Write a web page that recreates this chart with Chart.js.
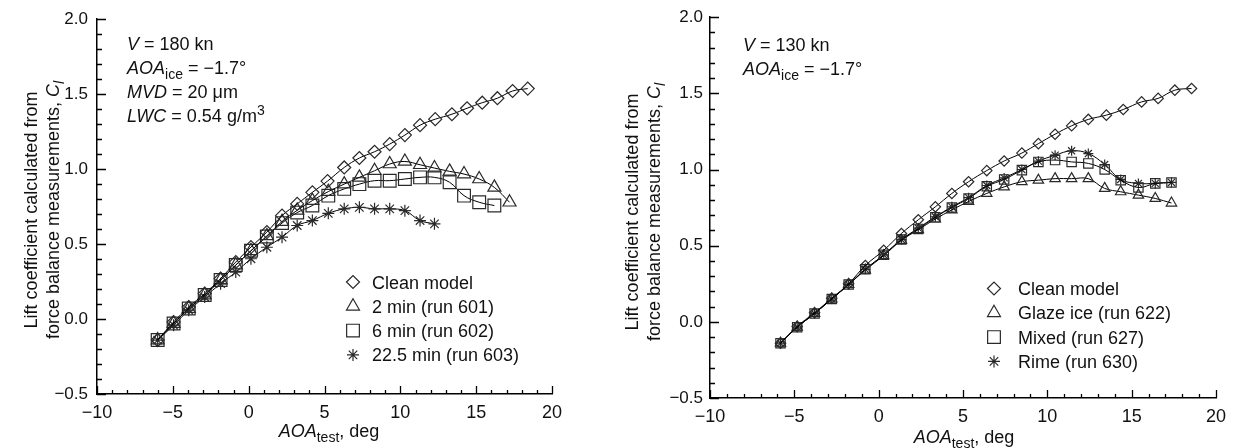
<!DOCTYPE html>
<html>
<head>
<meta charset="utf-8">
<script src="https://cdn.jsdelivr.net/npm/chart.js@4.4.0/dist/chart.umd.min.js"></script>
<style>
  html, body { margin: 0; padding: 0; background: #fff; }
  #wrap { position: relative; width: 1236px; height: 448px; overflow: hidden; }
  canvas { position: absolute; top: 0; }
</style>
</head>
<body>
<div id="wrap">
  <canvas id="leftChart" width="600" height="448" style="left:0;width:600px;height:448px"></canvas>
  <canvas id="rightChart" width="616" height="448" style="left:620px;width:616px;height:448px"></canvas>
</div>
<script>
// ===== Left panel: V = 180 kn, ice accretion time =====
const aoaLeft = [-6, -4.95, -3.95, -2.9, -1.85, -0.85, 0.15, 1.2, 2.2, 3.2, 4.2, 5.2, 6.3, 7.3, 8.3, 9.3, 10.3, 11.3, 12.3, 13.4, 14.4, 15.4, 16.4, 17.4, 18.4];
const aoaLeftIced = [-6, -4.95, -3.95, -2.9, -1.85, -0.85, 0.15, 1.2, 2.2, 3.2, 4.2, 5.25, 6.3, 7.3, 8.3, 9.3, 10.3, 11.3, 12.25, 13.25, 14.2, 15.2, 16.2, 17.2];
const clLeftClean = [-0.14, -0.02, 0.08, 0.17, 0.27, 0.38, 0.48, 0.58, 0.69, 0.768, 0.845, 0.92, 1.011, 1.074, 1.116, 1.167, 1.227, 1.293, 1.333, 1.366, 1.406, 1.443, 1.473, 1.521, 1.537];
const clLeft2min = [-0.14, -0.03, 0.07, 0.16, 0.26, 0.36, 0.455, 0.555, 0.65, 0.725, 0.79, 0.85, 0.9, 0.945, 0.989, 1.034, 1.051, 1.029, 1.007, 0.985, 0.967, 0.934, 0.878, 0.779];
const clLeft6min = [-0.14, -0.03, 0.07, 0.16, 0.26, 0.36, 0.455, 0.55, 0.64, 0.71, 0.757, 0.823, 0.868, 0.9, 0.923, 0.923, 0.934, 0.945, 0.945, 0.912, 0.823, 0.779, 0.757];
const clLeft22min = [-0.141, -0.041, 0.059, 0.147, 0.236, 0.313, 0.402, 0.479, 0.546, 0.624, 0.657, 0.705, 0.735, 0.745, 0.735, 0.735, 0.723, 0.657, 0.635];
const leftLabels = ["Clean model", "2 min (run 601)", "6 min (run 602)", "22.5 min (run 603)"];

// ===== Right panel: V = 130 kn, ice type =====
const aoaRight = [-5.82, -4.83, -3.8, -2.78, -1.78, -0.79, 0.3, 1.35, 2.35, 3.36, 4.34, 5.33, 6.41, 7.44, 8.49, 9.47, 10.46, 11.44, 12.43, 13.5, 14.5, 15.59, 16.57, 17.56, 18.55];
const aoaRightIced = [-5.82, -4.83, -3.8, -2.78, -1.78, -0.79, 0.3, 1.35, 2.35, 3.36, 4.34, 5.33, 6.41, 7.44, 8.49, 9.47, 10.46, 11.44, 12.43, 13.4, 14.35, 15.4, 16.4, 17.36];
const clRightClean = [-0.14, -0.03, 0.06, 0.155, 0.25, 0.37, 0.47, 0.58, 0.67, 0.755, 0.843, 0.92, 0.993, 1.056, 1.108, 1.17, 1.232, 1.287, 1.329, 1.357, 1.394, 1.444, 1.467, 1.521, 1.532];
const clRightGlaze = [-0.14, -0.035, 0.055, 0.15, 0.245, 0.34, 0.435, 0.535, 0.605, 0.675, 0.735, 0.79, 0.843, 0.886, 0.92, 0.93, 0.94, 0.94, 0.94, 0.876, 0.854, 0.832, 0.81, 0.78];
const clRightMixed = [-0.14, -0.035, 0.055, 0.15, 0.245, 0.345, 0.44, 0.54, 0.61, 0.686, 0.751, 0.81, 0.89, 0.935, 0.996, 1.05, 1.062, 1.05, 1.04, 1.0, 0.93, 0.882, 0.909, 0.915];
const clRightRime = [-0.14, -0.035, 0.055, 0.15, 0.245, 0.345, 0.44, 0.54, 0.615, 0.69, 0.755, 0.815, 0.895, 0.945, 1.0, 1.055, 1.094, 1.123, 1.105, 1.033, 0.935, 0.909, 0.909, 0.915];
const rightLabels = ["Clean model", "Glaze ice (run 622)", "Mixed (run 627)", "Rime (run 630)"];

// ===== Axis ranges =====
const xTicks = [-10, -5, 0, 5, 10, 15, 20];
const yTicks = [-0.5, 0.0, 0.5, 1.0, 1.5, 2.0];

const FONT = "'Liberation Sans', Arial, sans-serif";
const FS = 18;
const markerStyles = ["rectRot", "triangle", "rect", "star"];

Chart.defaults.font.family = FONT;
Chart.defaults.font.size = FS;
Chart.defaults.color = "#111";

const minus = s => String(s).replace("-", "\u2212");

// rich text: parts = [{t, it, sub, sup}]
function richWidth(ctx, parts) {
    let w = 0;
    parts.forEach(p => {
        const s = p.sub || p.sup ? FS * 0.78 : FS;
        ctx.font = (p.it ? "italic " : "") + s + "px " + FONT;
        w += ctx.measureText(p.t).width;
    });
    return w;
}
function drawRich(ctx, parts, x, y) {
    let cx = x;
    parts.forEach(p => {
        const s = p.sub || p.sup ? FS * 0.78 : FS;
        ctx.font = (p.it ? "italic " : "") + s + "px " + FONT;
        const dy = p.sub ? FS * 0.3 : p.sup ? -FS * 0.4 : 0;
        ctx.fillText(p.t, cx, y + dy);
        cx += ctx.measureText(p.t).width;
    });
}

function series(xs, ys, style, r) {
    return {
        data: ys.map((v, i) => ({ x: xs[i], y: v })),
        showLine: true,
        tension: 0.4,
        borderColor: "#000",
        borderWidth: 1,
        pointStyle: style,
        pointRadius: r,
        pointBorderColor: "#2a2a2a",
        pointBorderWidth: 1.2,
        pointBackgroundColor: "rgba(0,0,0,0)"
    };
}

// inward minor/major ticks, text annotations, legend, axis titles
function decorations(cfg) {
    return {
        id: "decorations",
        afterDraw(chart) {
            const { ctx, chartArea: a, scales: { x, y } } = chart;
            ctx.save();
            ctx.strokeStyle = "#000";
            ctx.lineWidth = 1.3;
            ctx.beginPath();
            for (let v = xTicks[0]; v <= xTicks[xTicks.length - 1]; v++) {
                const px = Math.round(x.getPixelForValue(v)) + 0.5;
                const len = v % 5 === 0 ? 8 : 4;
                ctx.moveTo(px, a.bottom);
                ctx.lineTo(px, a.bottom - len);
            }
            for (let k = yTicks[0] * 10; k <= yTicks[yTicks.length - 1] * 10; k++) {
                const py = Math.round(y.getPixelForValue(k / 10)) + 0.5;
                const len = k % 5 === 0 ? 9 : 5;
                ctx.moveTo(a.left, py);
                ctx.lineTo(a.left + len, py);
            }
            ctx.stroke();

            ctx.fillStyle = "#111";
            ctx.textBaseline = "alphabetic";
            ctx.textAlign = "left";

            // condition notes
            cfg.notes.forEach((parts, i) => drawRich(ctx, parts, cfg.noteX, cfg.noteY + i * 24));

            // legend
            cfg.labels.forEach((label, i) => {
                const ly = cfg.legendY + i * 24.3;
                ctx.strokeStyle = "#2a2a2a";
                ctx.fillStyle = "rgba(0,0,0,0)";
                ctx.lineWidth = 1.2;
                Chart.helpers.drawPoint(ctx, { pointStyle: markerStyles[i], radius: cfg.legendR[i], borderWidth: 1.2, rotation: 0 }, cfg.legendX, ly);
                ctx.fillStyle = "#111";
                ctx.font = FS + "px " + FONT;
                ctx.fillText(label, cfg.legendX + cfg.legendGap, ly + 6.5);
            });

            // x axis title
            const xt = [{ t: "AOA", it: true }, { t: "test", sub: true }, { t: ", deg" }];
            drawRich(ctx, xt, cfg.xTitleX - richWidth(ctx, xt) / 2, cfg.xTitleY);

            // y axis title (two rotated lines)
            const yLines = [
                [{ t: "Lift coefficient calculated from" }],
                [{ t: "force balance measurements, " }, { t: "C", it: true }, { t: "l", it: true, sub: true }]
            ];
            yLines.forEach((parts, i) => {
                ctx.save();
                ctx.translate(cfg.yTitleX[i], cfg.yTitleY);
                ctx.rotate(-Math.PI / 2);
                drawRich(ctx, parts, -richWidth(ctx, parts) / 2, 6.5);
                ctx.restore();
            });
            ctx.restore();
        }
    };
}

function makeChart(id, datasets, cfg) {
    return new Chart(document.getElementById(id), {
        type: "scatter",
        data: { datasets },
        options: {
            responsive: false,
            animation: false,
            events: [],
            layout: { padding: { left: 0, top: cfg.top, right: cfg.right, bottom: 0 } },
            plugins: { legend: { display: false }, tooltip: { enabled: false } },
            scales: {
                x: {
                    type: "linear",
                    min: xTicks[0],
                    max: xTicks[xTicks.length - 1],
                    afterBuildTicks: s => { s.ticks = xTicks.map(v => ({ value: v })); },
                    afterFit: s => { s.height = cfg.xHeight; },
                    grid: { display: false, drawTicks: false },
                    border: { display: true, color: "#000", width: 1.5 },
                    ticks: { padding: 8, maxRotation: 0, callback: v => minus(v) }
                },
                y: {
                    type: "linear",
                    min: yTicks[0],
                    max: yTicks[yTicks.length - 1],
                    afterBuildTicks: s => { s.ticks = yTicks.map(v => ({ value: v })); },
                    afterFit: s => { s.width = cfg.yWidth; },
                    grid: { display: false, drawTicks: false },
                    border: { display: true, color: "#000", width: 1.5 },
                    ticks: { padding: cfg.yPad, font: { size: 17 }, callback: v => minus(Number(v).toFixed(1)) }
                }
            }
        },
        plugins: [decorations(cfg)]
    });
}

makeChart("leftChart", [
    series(aoaLeft, clLeftClean, "rectRot", 6.5),
    series(aoaLeftIced, clLeft2min, "triangle", 7.5),
    series(aoaLeftIced, clLeft6min, "rect", 9),
    series(aoaLeftIced, clLeft22min, "star", 6)
], {
    top: 18, right: 48, xHeight: 54, yWidth: 97, yPad: 9,
    noteX: 127, noteY: 50,
    notes: [
        [{ t: "V", it: true }, { t: " = 180 kn" }],
        [{ t: "AOA", it: true }, { t: "ice", sub: true }, { t: " = \u22121.7\u00b0" }],
        [{ t: "MVD", it: true }, { t: " = 20 \u03bcm" }],
        [{ t: "LWC", it: true }, { t: " = 0.54 g/m" }, { t: "3", sup: true }]
    ],
    labels: leftLabels, legendX: 353, legendY: 282, legendGap: 19, legendR: [6.5, 7.5, 9, 6],
    xTitleX: 329, xTitleY: 437,
    yTitleX: [30, 52], yTitleY: 210
});

makeChart("rightChart", [
    series(aoaRight, clRightClean, "rectRot", 5.2),
    series(aoaRightIced, clRightGlaze, "triangle", 6),
    series(aoaRightIced, clRightMixed, "rect", 6.6),
    series(aoaRightIced, clRightRime, "star", 5)
], {
    top: 17, right: 20, xHeight: 50, yWidth: 90, yPad: 7,
    noteX: 123, noteY: 51,
    notes: [
        [{ t: "V", it: true }, { t: " = 130 kn" }],
        [{ t: "AOA", it: true }, { t: "ice", sub: true }, { t: " = \u22121.7\u00b0" }]
    ],
    labels: rightLabels, legendX: 374, legendY: 288.5, legendGap: 24, legendR: [6.5, 7.5, 9, 6],
    xTitleX: 344, xTitleY: 443,
    yTitleX: [11, 33], yTitleY: 212
});
</script>
</body>
</html>
